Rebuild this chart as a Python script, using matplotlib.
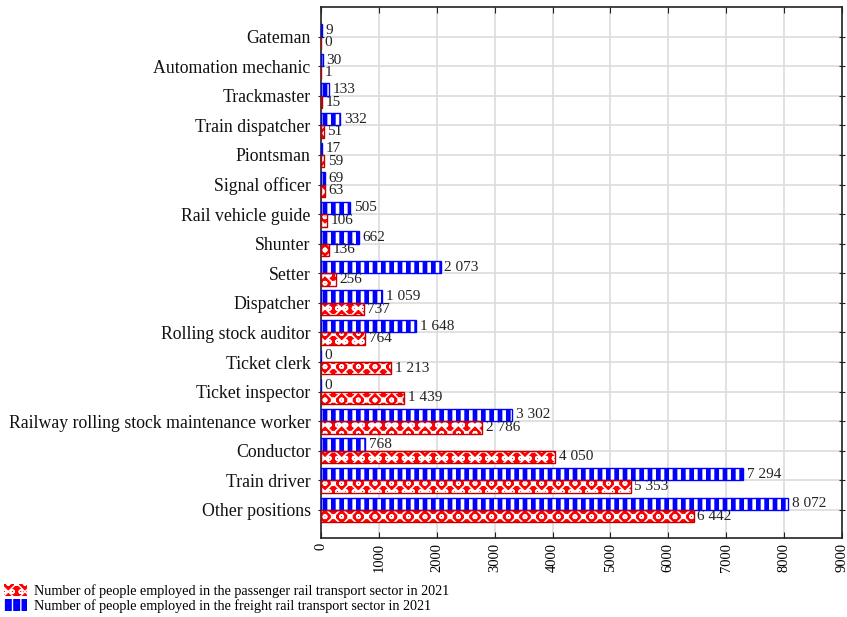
import numpy as np
import matplotlib as mpl
import matplotlib.pyplot as plt
from matplotlib.patches import Rectangle

plt.rcParams['font.family'] = ['Liberation Serif', 'DejaVu Serif']

# categories listed top to bottom as in the chart
positions = ["Gateman", "Automation mechanic", "Trackmaster", "Train dispatcher",
             "Piontsman", "Signal officer", "Rail vehicle guide", "Shunter", "Setter",
             "Dispatcher", "Rolling stock auditor", "Ticket clerk", "Ticket inspector",
             "Railway rolling stock maintenance worker", "Conductor", "Train driver",
             "Other positions"]
freight = [9, 30, 133, 332, 17, 69, 505, 662, 2073, 1059, 1648, 0, 0, 3302, 768, 7294, 8072]
passenger = [0, 1, 15, 51, 59, 63, 106, 136, 256, 737, 764, 1213, 1439, 2786, 4050, 5353, 6442]
x_ticks = [0, 1000, 2000, 3000, 4000, 5000, 6000, 7000, 8000, 9000]

lab_freight = "Number of people employed in the freight rail transport sector in 2021"
lab_passenger = "Number of people employed in the passenger rail transport sector in 2021"

n = len(positions)
y = np.arange(n)[::-1]  # top category gets the highest y
h = 0.42

fig = plt.figure(figsize=(8.47, 6.17), dpi=100)
ax = fig.add_axes([0.379, 0.128, 0.615, 0.861])

# freight: blue with white vertical stripes
with mpl.rc_context({'hatch.linewidth': 2.6}):
    ax.barh(y + h / 2, freight, height=h, color='blue', edgecolor='white', hatch='||', linewidth=0, zorder=3)
    h_fr = Rectangle((0, 0), 1, 1, facecolor='blue', edgecolor='white', hatch='||', linewidth=0)
ax.barh(y + h / 2, freight, height=h, fill=False, edgecolor='blue', linewidth=1, zorder=4)
# passenger: red with white pattern
with mpl.rc_context({'hatch.linewidth': 1.2}):
    ax.barh(y - h / 2, passenger, height=h, color='red', edgecolor='white', hatch='xxoo', linewidth=0, zorder=3)
    h_pa = Rectangle((0, 0), 1, 1, facecolor='red', edgecolor='white', hatch='xxoo', linewidth=0)
ax.barh(y - h / 2, passenger, height=h, fill=False, edgecolor='#c00000', linewidth=1, zorder=4)

def fmt(v):
    return f"{v:,}".replace(",", " ")

for yi, f, p in zip(y, freight, passenger):
    ax.text(f + 60, yi + h / 2, fmt(f), va='center', ha='left', fontsize=11, color='#222222', zorder=5)
    ax.text(p + 60, yi - h / 2, fmt(p), va='center', ha='left', fontsize=11, color='#222222', zorder=5)

ax.set_xlim(0, 9000)
ax.set_ylim(-0.95, n - 1 + 1.01)
ax.set_yticks(y)
ax.set_yticklabels(positions, fontsize=12.8, color='#111111')
ax.set_xticks(x_ticks)
ax.set_xticklabels([str(t) for t in x_ticks], rotation=90, fontsize=10.5)
ax.grid(True, color='#dcdcdc', linewidth=1.2, zorder=0)
ax.set_axisbelow(True)
ax.tick_params(axis='both', direction='in', top=True, right=True, length=4, color='#222222')
ax.tick_params(axis='y', direction='inout', length=5, pad=5)
for s in ax.spines.values():
    s.set_color('#222222')
    s.set_linewidth(1.2)

fig.legend([h_pa, h_fr], [lab_passenger, lab_freight], loc='lower left', bbox_to_anchor=(0.0, 0.0),
           frameon=False, fontsize=10.2, handlelength=1.6, handleheight=0.9, handletextpad=0.5,
           labelspacing=0.1, borderpad=0.2, borderaxespad=0.1)

fig.savefig('out.png', dpi=100)
